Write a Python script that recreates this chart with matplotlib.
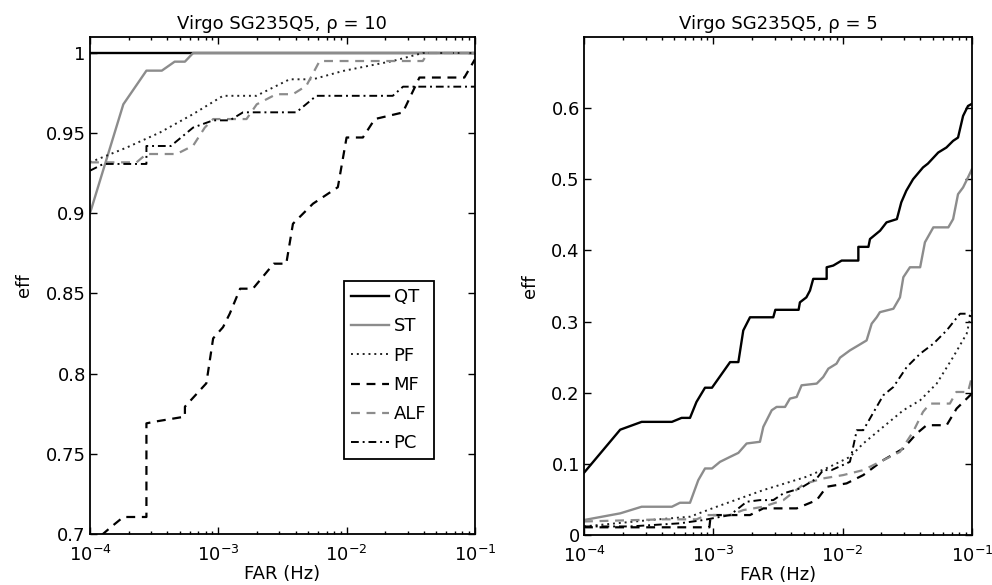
import numpy as np
import matplotlib
matplotlib.use("Agg")
import matplotlib.pyplot as plt

plt.rcParams['font.family'] = ['DejaVu Sans']
plt.rcParams['mathtext.default'] = 'regular'
plt.rcParams['font.size'] = 13
FS = 13

# ---- left panel, rho = 10 (x given as log10 of FAR) ----
qt10_x = [-4.0, -1.0]
qt10_y = [1.0, 1.0]
st10_x = [-4.0, -3.74, -3.56, -3.44, -3.34, -3.26, -3.196, -1.0]
st10_y = [0.900, 0.968, 0.989, 0.989, 0.9946, 0.9946, 1.0, 1.0]
pf10_x = [-4.0, -3.715, -3.455, -3.196, -2.963, -2.703, -2.444, -2.262, -2.028, -1.64, -1.406, -1.0]
pf10_y = [0.9318, 0.941, 0.9504, 0.9619, 0.9733, 0.9733, 0.9836, 0.9836, 0.9888, 0.995, 1.0, 1.0]
mf10_x = [-4.0, -3.844, -3.74, -3.56, -3.56, -3.50, -3.26, -3.26, -3.093, -3.04, -2.963, -2.91,
          -2.83, -2.73, -2.568, -2.47, -2.418, -2.262, -2.068, -2.0, -1.873, -1.78, -1.562,
          -1.432, -1.082, -1.0]
mf10_y = [0.693, 0.7038, 0.7106, 0.7106, 0.769, 0.770, 0.7732, 0.7794, 0.794, 0.822, 0.829, 0.8375,
          0.853, 0.853, 0.8686, 0.8686, 0.8935, 0.906, 0.9163, 0.9473, 0.9473, 0.9588, 0.9629,
          0.9847, 0.9847, 0.996]
alf10_x = [-4.0, -3.637, -3.56, -3.325, -3.196, -3.105, -3.04, -2.78, -2.70, -2.548, -2.418,
           -2.314, -2.21, -1.406, -1.367, -1.0]
alf10_y = [0.9318, 0.9318, 0.937, 0.937, 0.9422, 0.9535, 0.9588, 0.9588, 0.968, 0.9743, 0.9743,
           0.9795, 0.995, 0.995, 1.0, 1.0]
pc10_x = [-4.0, -3.896, -3.56, -3.56, -3.37, -3.196, -3.04, -2.91, -2.807, -2.392, -2.236,
          -1.64, -1.56, -1.0]
pc10_y = [0.9266, 0.9308, 0.9308, 0.942, 0.942, 0.9535, 0.958, 0.958, 0.963, 0.963, 0.9733,
          0.9733, 0.979, 0.979]

# ---- right panel, rho = 5 ----
qt5_x = [-4.0, -3.72, -3.554, -3.32, -3.245, -3.18, -3.13, -3.064, -3.01, -2.87, -2.806, -2.768,
         -2.716, -2.536, -2.52, -2.34, -2.33, -2.28, -2.252, -2.227, -2.123, -2.123, -2.072, -2.007,
         -1.878, -1.878, -1.80, -1.788, -1.71, -1.66, -1.58, -1.546, -1.507, -1.455, -1.378,
         -1.34, -1.26, -1.197, -1.145, -1.107, -1.068, -1.03, -1.0]
qt5_y = [0.0874, 0.148, 0.159, 0.159, 0.1646, 0.1646, 0.187, 0.207, 0.207, 0.243, 0.243, 0.2875,
         0.306, 0.306, 0.3165, 0.3165, 0.327, 0.334, 0.3436, 0.36, 0.36, 0.3763, 0.3787, 0.3857,
         0.3857, 0.405, 0.405, 0.416, 0.4277, 0.4394, 0.444, 0.4675, 0.4839, 0.500, 0.5166,
         0.522, 0.5376, 0.5446, 0.554, 0.5586, 0.589, 0.603, 0.606]
st5_x = [-4.0, -3.72, -3.554, -3.32, -3.258, -3.18, -3.116, -3.064, -3.01, -2.948, -2.87, -2.806,
         -2.742, -2.639, -2.613, -2.548, -2.51, -2.445, -2.407, -2.355, -2.317, -2.2, -2.15, -2.11,
         -2.047, -2.02, -1.943, -1.878, -1.814, -1.775, -1.736, -1.711, -1.607, -1.556, -1.53,
         -1.479, -1.40, -1.363, -1.298, -1.182, -1.145, -1.107, -1.068, -1.03, -1.0]
st5_y = [0.021, 0.0304, 0.0397, 0.0397, 0.0453, 0.0453, 0.0771, 0.0935, 0.0935, 0.1028, 0.1098,
         0.1154, 0.1286, 0.131, 0.152, 0.1753, 0.18, 0.18, 0.1917, 0.194, 0.2104, 0.2128, 0.222,
         0.2338, 0.2408, 0.2492, 0.2595, 0.2665, 0.2735, 0.297, 0.306, 0.3132, 0.318, 0.334,
         0.3623, 0.3763, 0.3763, 0.4114, 0.4324, 0.4324, 0.444, 0.479, 0.4885, 0.5025, 0.514]
pf5_x = [-4.0, -3.49, -3.18, -2.974, -2.613, -2.28, -2.10, -1.943, -1.84, -1.685, -1.53, -1.40,
         -1.272, -1.145, -1.04, -1.0]
pf5_y = [0.012, 0.021, 0.0257, 0.0397, 0.0631, 0.0818, 0.0958, 0.1098, 0.1286, 0.152, 0.1753,
         0.1893, 0.2128, 0.25, 0.283, 0.3156]
mf5_x = [-4.0, -3.03, -3.02, -2.716, -2.613, -2.355, -2.2, -2.123, -1.969, -1.84, -1.685, -1.53,
         -1.427, -1.35, -1.195, -1.118, -1.0]
mf5_y = [0.0108, 0.0108, 0.028, 0.028, 0.0374, 0.0374, 0.049, 0.0678, 0.0725, 0.0842, 0.1052,
         0.1216, 0.1426, 0.1543, 0.1543, 0.1777, 0.1987]
alf5_x = [-4.0, -3.387, -3.13, -3.05, -2.87, -2.768, -2.613, -2.458, -2.30, -2.15, -1.995, -1.84,
          -1.711, -1.556, -1.455, -1.378, -1.324, -1.17, -1.12, -1.03, -1.0]
alf5_y = [0.019, 0.022, 0.022, 0.028, 0.028, 0.035, 0.0397, 0.049, 0.0715, 0.0795, 0.0842, 0.0912,
          0.1028, 0.1168, 0.1449, 0.173, 0.1847, 0.1847, 0.201, 0.201, 0.222]
pc5_x = [-4.0, -3.644, -3.258, -3.077, -2.87, -2.742, -2.639, -2.536, -2.458, -2.33, -2.2, -2.15,
         -2.085, -1.943, -1.89, -1.84, -1.685, -1.607, -1.504, -1.40, -1.298, -1.195, -1.092,
         -1.04, -1.0]
pc5_y = [0.012, 0.012, 0.0164, 0.021, 0.028, 0.0467, 0.049, 0.049, 0.0584, 0.0654, 0.0795, 0.0912,
         0.0912, 0.1028, 0.1473, 0.1473, 0.1964, 0.208, 0.236, 0.2548, 0.2688, 0.2875, 0.311,
         0.311, 0.306]

labels = ['QT', 'ST', 'PF', 'MF', 'ALF', 'PC']
gray = '#8c8c8c'
styles = [
    dict(color='black', lw=1.7, ls='-'),
    dict(color=gray, lw=1.7, ls='-'),
    dict(color='#222222', lw=1.4, ls=(0, (1, 2))),
    dict(color='black', lw=1.6, ls=(0, (4, 3))),
    dict(color=gray, lw=1.6, ls=(0, (4, 3))),
    dict(color='black', lw=1.4, ls=(0, (4, 2, 1, 2))),
]

fig = plt.figure(figsize=(9.92, 5.85), dpi=100)
ax1 = fig.add_axes([0.0907, 0.0872, 0.388, 0.8496])
ax2 = fig.add_axes([0.5887, 0.0855, 0.391, 0.8513])

left = [(qt10_x, qt10_y), (st10_x, st10_y), (pf10_x, pf10_y),
        (mf10_x, mf10_y), (alf10_x, alf10_y), (pc10_x, pc10_y)]
right = [(qt5_x, qt5_y), (st5_x, st5_y), (pf5_x, pf5_y),
         (mf5_x, mf5_y), (alf5_x, alf5_y), (pc5_x, pc5_y)]

for ax, data in [(ax1, left), (ax2, right)]:
    for (x, y), lab, st in zip(data, labels, styles):
        ax.plot(10 ** np.array(x), y, label=lab, **st)
    ax.set_xscale('log')
    ax.set_xlim(1e-4, 1e-1)
    ax.set_xlabel('FAR (Hz)', fontsize=FS, labelpad=0)
    ax.set_ylabel('eff', fontsize=FS, labelpad=9)
    ax.tick_params(which='both', direction='in', top=True, right=True, labelsize=FS, width=1.0)
    ax.tick_params(which='major', length=5)
    ax.tick_params(which='minor', length=2.5)
    ax.tick_params(axis='x', which='major', pad=8)
    ax.tick_params(axis='y', which='major', pad=3)
    for sp in ax.spines.values():
        sp.set_linewidth(1.3)

ax1.set_ylim(0.7, 1.01)
ax1.set_yticks([0.7, 0.75, 0.8, 0.85, 0.9, 0.95, 1.0])
ax1.set_yticklabels(['0.7', '0.75', '0.8', '0.85', '0.9', '0.95', '1'])
ax1.set_title('Virgo SG235Q5, ρ = 10', fontsize=FS, pad=6)
ax1.legend(loc='lower left', bbox_to_anchor=(0.66, 0.15), fancybox=False, edgecolor='black',
           framealpha=1, handlelength=2.1, borderpad=0.4, labelspacing=0.62,
           handletextpad=0.25, borderaxespad=0, fontsize=FS).get_frame().set_linewidth(1.3)

ax2.set_ylim(0, 0.7)
ax2.set_yticks([0, 0.1, 0.2, 0.3, 0.4, 0.5, 0.6])
ax2.set_yticklabels(['0', '0.1', '0.2', '0.3', '0.4', '0.5', '0.6'])
ax2.set_title('Virgo SG235Q5, ρ = 5', fontsize=FS, pad=6)

fig.savefig('out.png', dpi=100)
